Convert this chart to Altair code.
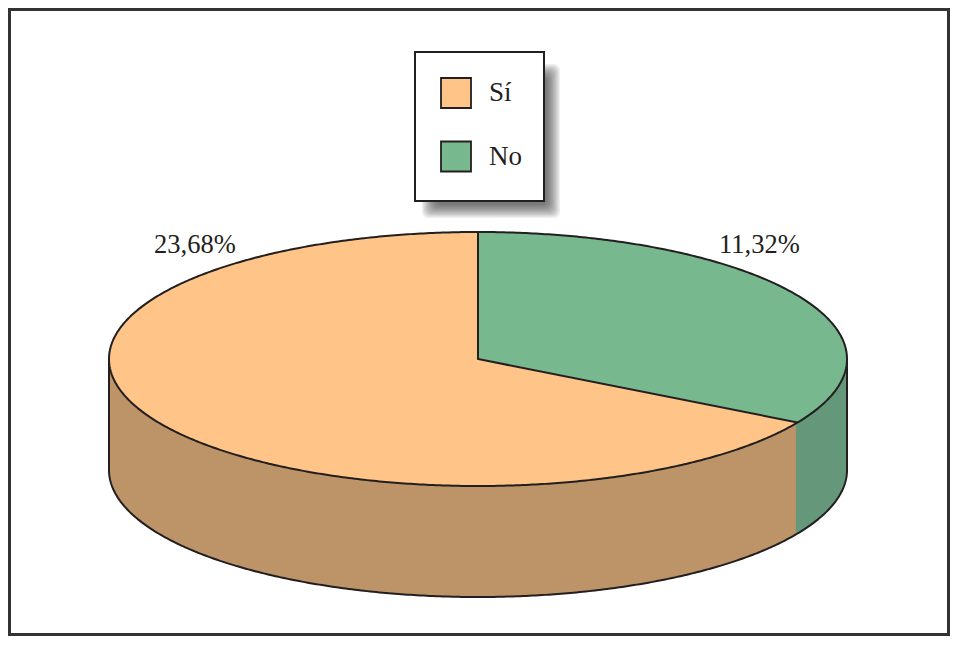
import numpy as np
import pandas as pd
import altair as alt

# Values and labels as printed in the picture
categories = ["Sí", "No"]
printed_values = ["23,68%", "11,32%"]
# Sweep of the "No" slice on the ellipse, read from the drawn slice edge
no_slice_degrees = 120.0
wall_depth = 111 / 127          # wall height, in units of the ellipse's minor radius

top_colors = ["#FFC488", "#78B88F"]
wall_colors = ["#BC9468", "#65987A"]
INK = "#231F20"
FONT = "Liberation Serif"

W, H = 942, 628
CX, CY, RX, RY = 470, 351, 369, 127
x_scale = alt.Scale(domain=[-CX / RX, (W - CX) / RX], nice=False, zero=False)
y_scale = alt.Scale(domain=[(CY - H) / RY, CY / RY], nice=False, zero=False)

a = np.radians(no_slice_degrees)
ex, ey = np.sin(a), np.cos(a)
slope = ey / ex
grid = np.unique(np.concatenate([np.sin(np.linspace(-np.pi / 2, np.pi / 2, 721)), [0.0, ex]]))
up = np.sqrt(np.clip(1 - grid ** 2, 0, None))
lo = -up

rows = []
for x, u, l in zip(grid, up, lo):
    if x <= 0:
        rows.append(dict(slice="Sí", x=x, y=u, y2=l))
    elif x <= ex:
        rows.append(dict(slice="Sí", x=x, y=slope * x, y2=l))
    if x >= 0:
        rows.append(dict(slice="No", x=x, y=u, y2=max(slope * x, l) if x <= ex else l))
top_df = pd.DataFrame(rows)

wall_rows = []
for x, l in zip(grid, lo):
    if x <= ex:
        wall_rows.append(dict(slice="Sí", x=x, y=l, y2=l - wall_depth))
    # the green wall runs a hair under the orange one so no seam shows
    if x >= ex - 0.006:
        wall_rows.append(dict(slice="No", x=x, y=l, y2=l - wall_depth))
wall_df = pd.DataFrame(wall_rows)

t = np.linspace(0, 2 * np.pi, 721)
lines = [pd.DataFrame(dict(part="rim", x=np.sin(t), y=np.cos(t), o=np.arange(t.size)))]
lines.append(pd.DataFrame(dict(part="radii", x=[0, 0, ex], y=[1, 0, ey], o=[0, 1, 2])))
tf = np.linspace(np.pi / 2, 3 * np.pi / 2, 361)
fx = np.sin(tf)
fy = np.cos(tf) - wall_depth
lines.append(pd.DataFrame(dict(
    part="base",
    x=np.concatenate([[1], fx, [-1]]),
    y=np.concatenate([[0], fy, [0]]),
    o=np.arange(tf.size + 2),
)))
line_df = pd.concat(lines, ignore_index=True)

X = alt.X("x:Q", scale=x_scale, axis=None)
Y = alt.Y("y:Q", scale=y_scale, axis=None)

walls = alt.Chart(wall_df).mark_area(interpolate="linear", strokeWidth=0).encode(
    x=X, y=Y, y2="y2:Q",
    fill=alt.Fill("slice:N", scale=alt.Scale(domain=categories, range=wall_colors), legend=None),
)
top = alt.Chart(top_df).mark_area(interpolate="linear", strokeWidth=0).encode(
    x=X, y=Y, y2="y2:Q",
    color=alt.Color(
        "slice:N",
        scale=alt.Scale(domain=categories, range=top_colors),
        sort=categories,
        legend=alt.Legend(
            title=None, orient="none", legendX=432, legendY=69, zindex=1, padding=0,
            symbolType="square", symbolSize=900, symbolStrokeColor=INK,
            symbolStrokeWidth=1.8, symbolOpacity=1,
            labelFont=FONT, labelFontSize=27, labelColor=INK, labelOffset=17,
            rowPadding=25.5,
        ),
    ),
)
outline = alt.Chart(line_df).mark_line(color=INK, strokeWidth=2, interpolate="linear").encode(
    x=X, y=Y, detail="part:N", order="o:Q",
)

one = pd.DataFrame({"k": [0]})

# legend box's soft shadow, then the box itself
shadow_steps = [i * 1.2 for i in range(12)]
shadows = [
    alt.Chart(one).mark_rect(color="#222222", opacity=0.075, cornerRadius=6).encode(
        x=alt.value(414 + s), x2=alt.value(552 - s),
        y=alt.value(56 + s), y2=alt.value(210 - s),
    )
    for s in shadow_steps
]
legend_box = alt.Chart(one).mark_rect(fill="white", stroke=INK, strokeWidth=2).encode(
    x=alt.value(407), x2=alt.value(536), y=alt.value(44), y2=alt.value(193),
)

label_a = alt.Chart(pd.DataFrame({"t": [printed_values[0]]})).mark_text(
    font=FONT, fontSize=26.5, color=INK, align="left", baseline="alphabetic"
).encode(text="t:N", x=alt.value(146), y=alt.value(245))
label_b = alt.Chart(pd.DataFrame({"t": [printed_values[1]]})).mark_text(
    font=FONT, fontSize=26.5, color=INK, align="left", baseline="alphabetic"
).encode(text="t:N", x=alt.value(711), y=alt.value(245))

frame = alt.Chart(one).mark_rect(
    fill="white", fillOpacity=0, stroke="#333333", strokeWidth=3
).encode(x=alt.value(1.5), x2=alt.value(W - 1.5), y=alt.value(1.5), y2=alt.value(H - 1.5))

chart = (
    alt.layer(frame, walls, top, outline, *shadows, legend_box, label_a, label_b)
    .resolve_scale(color="independent", fill="independent")
    .properties(width=W, height=H, padding=0, autosize=alt.AutoSizeParams(type="none"))
    .configure_view(stroke=None)
)
chart.save("out.html", embed_options={"renderer": "svg", "actions": False})
